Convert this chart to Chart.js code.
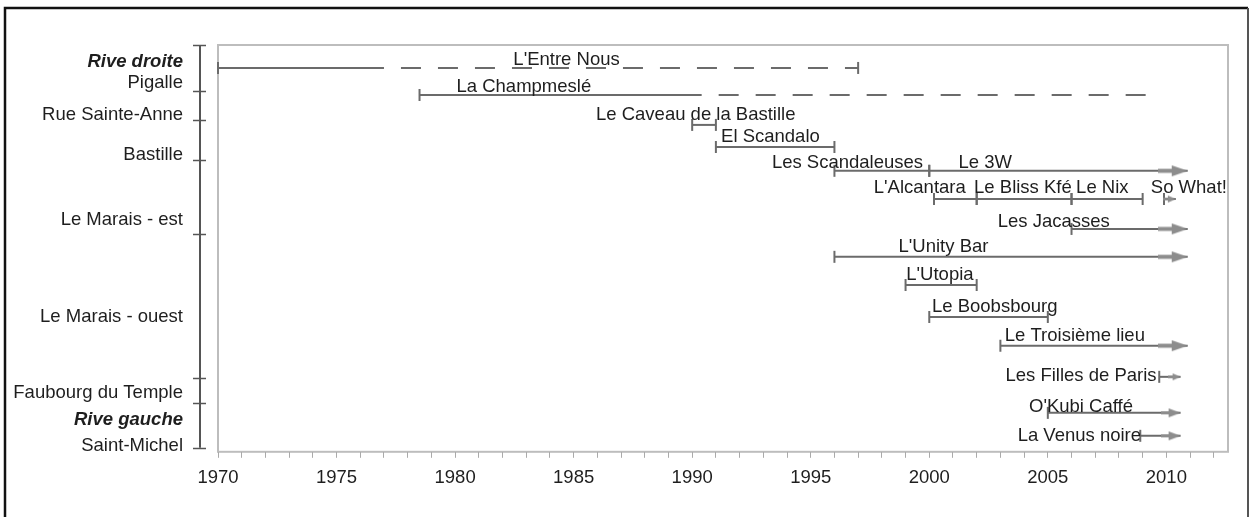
<!DOCTYPE html>
<html><head><meta charset="utf-8">
<script src="https://cdn.jsdelivr.net/npm/chart.js@4.4.1/dist/chart.umd.min.js"></script>
<style>html,body{margin:0;padding:0;background:#fff;}#wrap{width:1255px;height:517px;position:relative;}canvas{display:block;}</style>
</head><body><div id="wrap"><canvas id="c"></canvas></div>
<script>
// ---- data ----
const venues = ["L'Entre Nous","La Champmeslé","Le Caveau de la Bastille","El Scandalo","Les Scandaleuses","Le 3W","L'Alcantara","Le Bliss Kfé","Le Nix","So What!","Les Jacasses","L'Unity Bar","L'Utopia","Le Boobsbourg","Le Troisième lieu","Les Filles de Paris","O'Kubi Caffé","La Venus noire"];
const rowPos = [0.79,1.72,2.75,3.51,4.33,4.33,5.30,5.30,5.30,5.30,6.33,7.29,8.26,9.36,10.35,11.42,12.66,13.45];
const openYear = [1970,1978.5,1990,1991,1996,2000,2000.2,2002,2006,2009.9,2006,1996,1999,2000,2003,2009.7,2005,2008.9];
const closeYear = [1997,2009.3,1991,1996,2000,2010.9,2002,2006,2009,2010.4,2010.9,2010.9,2002,2005,2010.9,2010.6,2010.6,2010.6];
const uncertainFrom = [1977,1990.4,null,null,null,null,null,null,null,null,null,null,null,null,null,null,null,null];
const endKnown = [true,false,true,true,true,false,true,true,true,false,false,false,true,true,false,false,false,false];
const stillOpen = [false,false,false,false,false,true,false,false,false,true,true,true,false,false,true,true,true,true];
const districts = ["Rive droite","Pigalle","Rue Sainte-Anne","Bastille","Le Marais - est","Le Marais - ouest","Faubourg du Temple","Rive gauche","Saint-Michel"];
const districtHeading = [true,false,false,false,false,false,false,true,false];
const districtBounds = [0,1.58,2.58,3.96,6.50,11.46,12.32,13.86];
const yearTicks = [1970,1975,1980,1985,1990,1995,2000,2005,2010];

// ---- layout (placement only) ----
const labelAt = [1984.7,1982.9,1990.15,1993.3,1996.55,2002.36,1999.6,2003.95,2007.3,2010.95,2005.25,2000.6,2000.45,2002.76,2006.14,2006.4,2006.4,2006.33];
const labelLift = [8,8,10,10,8,8,11,11,11,11,7,10,10,10,10,1,6,0];
const districtLabelPos = [0.58,1.31,2.41,3.78,6.02,9.36,11.97,12.90,13.79];
const arrowSize = {5:'L',9:'S',10:'L',11:'L',14:'L',15:'S',16:'M',17:'M'};

const FONT = '"Liberation Sans", Arial, sans-serif';
const FSIZE = 18.5;
const LINE = '#6b6b6b';

function makeArrow(len, headLen, headH, shaftW){
  const c = document.createElement('canvas');
  c.width = len*2; c.height = Math.ceil(headH)+2;
  const g = c.getContext('2d'); const cy = c.height/2;
  g.fillStyle = '#8d8d8d';
  g.fillRect(0, cy-shaftW/2, len-headLen+1, shaftW);
  g.beginPath(); g.moveTo(len-headLen, cy-headH/2); g.lineTo(len, cy); g.lineTo(len-headLen, cy+headH/2); g.closePath(); g.fill();
  return c;
}
const arrows = {L: makeArrow(30,16,11,4), M: makeArrow(20,12,9,3), S: makeArrow(13,8,7,2.5)};

const datasets = [];
venues.forEach((name,i)=>{
  const y = rowPos[i];
  const common = {borderColor: LINE, borderWidth: 2, pointBorderColor: LINE, pointBackgroundColor: LINE, pointBorderWidth: 2, showLine: true, clip: false};
  const endStyle = stillOpen[i] ? arrows[arrowSize[i]] : 'line';
  const endRadius = (stillOpen[i] || endKnown[i]) ? 6 : 0;
  if (uncertainFrom[i] == null) {
    datasets.push(Object.assign({label:name, data:[{x:openYear[i],y},{x:closeYear[i],y}],
      pointStyle:['line', endStyle], pointRotation:[90, stillOpen[i]?0:90], pointRadius:[6, endRadius]}, common));
  } else {
    datasets.push(Object.assign({label:name, data:[{x:openYear[i],y},{x:uncertainFrom[i],y}],
      pointStyle:'line', pointRotation:90, pointRadius:[6,0]}, common));
    datasets.push(Object.assign({label:name+' (?)', data:[{x:uncertainFrom[i],y},{x:closeYear[i],y}],
      borderDash:[20,17], borderDashOffset:20,
      pointStyle:'line', pointRotation:90, pointRadius:[0, endRadius]}, common));
  }
});

const decor = {
  id:'decor',
  beforeDraw(chart){
    const {ctx, chartArea:a} = chart;
    ctx.save();
    ctx.fillStyle = '#fff'; ctx.fillRect(0,0,chart.width,chart.height);
    ctx.strokeStyle = '#111'; ctx.lineWidth = 2.5;
    ctx.beginPath(); ctx.moveTo(5,chart.height); ctx.lineTo(5,8); ctx.lineTo(1248,8); ctx.stroke();
    ctx.strokeStyle = '#555'; ctx.lineWidth = 2;
    ctx.beginPath(); ctx.moveTo(1248,8); ctx.lineTo(1248,chart.height); ctx.stroke();
    ctx.strokeStyle = '#bdbdbd'; ctx.lineWidth = 2;
    ctx.strokeRect(a.left, a.top, a.right-a.left, a.bottom-a.top);
    ctx.restore();
  },
  afterDatasetsDraw(chart){
    const {ctx, chartArea:a} = chart;
    const xs = chart.scales.x, ys = chart.scales.y;
    ctx.save();
    ctx.fillStyle = '#1e1e1e'; ctx.font = FSIZE+'px '+FONT; ctx.textAlign = 'center'; ctx.textBaseline = 'middle';
    venues.forEach((name,i)=>{
      ctx.fillText(name, xs.getPixelForValue(labelAt[i]), ys.getPixelForValue(rowPos[i]) - labelLift[i]);
    });
    const ax = a.left - 18;
    ctx.strokeStyle = '#555'; ctx.lineWidth = 2;
    ctx.beginPath();
    ctx.moveTo(ax, ys.getPixelForValue(districtBounds[0]));
    ctx.lineTo(ax, ys.getPixelForValue(districtBounds[districtBounds.length-1]));
    ctx.stroke();
    ctx.lineWidth = 1.5;
    districtBounds.forEach(b=>{
      const py = Math.round(ys.getPixelForValue(b))+0.5;
      ctx.beginPath(); ctx.moveTo(ax-7, py); ctx.lineTo(ax+6, py); ctx.stroke();
    });
    ctx.textAlign = 'right'; ctx.fillStyle = '#1e1e1e';
    districts.forEach((d,i)=>{
      ctx.font = (districtHeading[i] ? 'italic bold ' : '') + FSIZE + 'px ' + FONT;
      ctx.fillText(d, ax-17, ys.getPixelForValue(districtLabelPos[i]));
    });
    ctx.restore();
  }
};

new Chart(document.getElementById('c'), {
  type: 'scatter',
  data: {datasets},
  options: {
    responsive: true, maintainAspectRatio: false, animation: false, events: [],
    layout: {padding: {left: 218, right: 27, top: 45, bottom: 19}},
    plugins: {legend: {display: false}, tooltip: {enabled: false}},
    scales: {
      x: {type: 'linear', min: 1970, max: 2012.6,
        border: {display: false},
        grid: {drawOnChartArea: false, tickLength: 6, color: '#aaa', lineWidth: 1},
        ticks: {stepSize: 1, includeBounds: false, autoSkip: false, maxRotation: 0, padding: 9,
          color: '#1e1e1e', font: {family: FONT, size: FSIZE},
          callback: v => yearTicks.includes(v) ? String(v) : ''}},
      y: {type: 'linear', min: 0, max: 14, reverse: true, display: false}
    }
  },
  plugins: [decor]
});
</script></body></html>
